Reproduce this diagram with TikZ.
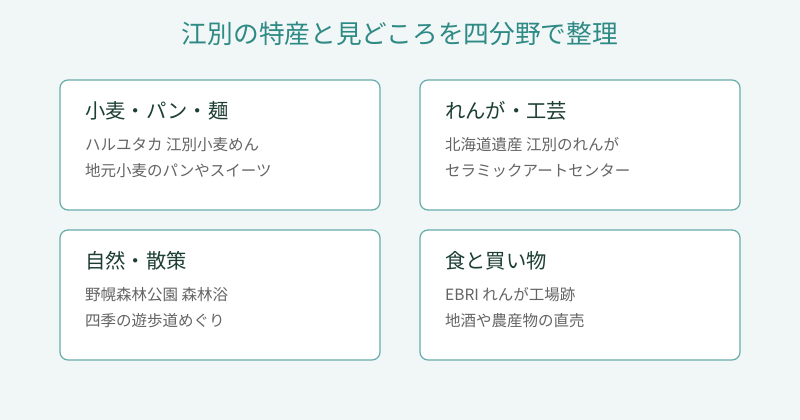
\documentclass[tikz,border=0pt]{standalone}
\usepackage{fontspec}
\setmainfont{Noto Sans CJK JP}
\usetikzlibrary{positioning}
\definecolor{bgcol}{RGB}{241,246,247}
\definecolor{titlecol}{RGB}{46,138,132}
\definecolor{framecol}{RGB}{104,172,172}
\definecolor{headcol}{RGB}{28,62,52}
\definecolor{bodycol}{RGB}{100,100,100}
\tikzset{
area_box/.style={
	% The shape:
	rectangle,
	rounded corners=8pt,
	% The size:
	minimum width=320pt,
	minimum height=130pt,
	% The border:
	draw=framecol,
	line width=1.2pt,
	% The filling:
	fill=white
},
area_head/.style={
	anchor=base west,
	inner sep=0pt,
	text=headcol,
	font=\fontsize{20.3pt}{24pt}\selectfont
},
area_line/.style={
	anchor=base west,
	inner sep=0pt,
	text=bodycol,
	font=\fontsize{15.5pt}{18pt}\selectfont
}
}

\begin{document}
\begin{tikzpicture}[x=1pt, y=-1pt]
			\fill[bgcol] (0, 0) rectangle (800, 420);
			\useasboundingbox (0, 0) rectangle (800, 420);

			\node (title) [anchor=base, inner sep=0pt, text=titlecol,
				font=\fontsize{25.7pt}{30pt}\selectfont] at (400, 43.8)
				{江別の特産と見どころを四分野で整理};

			% upper row
			\node (wheat) [area_box] at (220, 145) {};
			\node (brick) [area_box] at (580, 145) {};
			% lower row
			\node (nature) [area_box] at (220, 295) {};
			\node (food) [area_box] at (580, 295) {};

			\node (wheat head) [area_head] at (85, 118.8) {小麦・パン・麺};
			\node (wheat a) [area_line] at (85, 150.9) {ハルユタカ 江別小麦めん};
			\node (wheat b) [area_line] at (85, 176.9) {地元小麦のパンやスイーツ};

			\node (brick head) [area_head] at (445, 118.8) {れんが・工芸};
			\node (brick a) [area_line] at (445, 150.9) {北海道遺産 江別のれんが};
			\node (brick b) [area_line] at (445, 176.9) {セラミックアートセンター};

			\node (nature head) [area_head] at (85, 268.8) {自然・散策};
			\node (nature a) [area_line] at (85, 300.9) {野幌森林公園 森林浴};
			\node (nature b) [area_line] at (85, 326.9) {四季の遊歩道めぐり};

			\node (food head) [area_head] at (445, 268.8) {食と買い物};
			\node (food a) [area_line] at (445, 300.9) {EBRI れんが工場跡};
			\node (food b) [area_line] at (445, 326.9) {地酒や農産物の直売};
		\end{tikzpicture}
\end{document}
